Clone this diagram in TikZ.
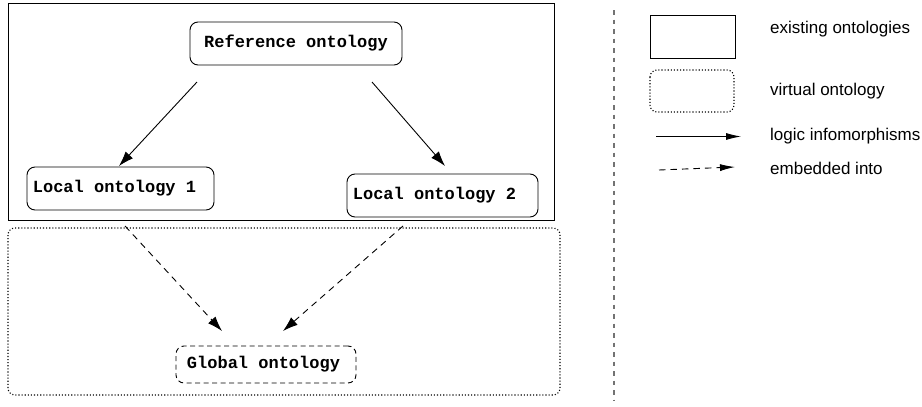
\documentclass[tikz,border=0pt]{standalone}
\usepackage{fontspec}
\setmainfont{Liberation Sans}
\newfontfamily\boxfont{Liberation Mono}
\usetikzlibrary{arrows.meta}
\tikzset{
  onto/.style={draw, rounded corners=8pt, line width=0.9pt, font=\boxfont\bfseries\fontsize{17}{20}\selectfont, inner sep=0pt},
  solidarrow/.style={line width=0.9pt, -{Latex[length=15pt,width=10pt]}},
  dasharrow/.style={line width=0.9pt, dash pattern=on 6.5pt off 5pt, -{Latex[length=15pt,width=10pt]}},
  dotbox/.style={line width=1.1pt, dash pattern=on 1.1pt off 2pt, rounded corners=7pt},
  legtext/.style={anchor=west, font=\fontsize{17}{20}\selectfont, inner sep=0pt},
}
\begin{document}
\begin{tikzpicture}[x=1pt,y=-1pt]
\useasboundingbox (0,0) rectangle (922,407);
% existing ontologies frame
\draw[line width=0.95pt] (8,3) rectangle (554,220);
% virtual ontology frame
\draw[dotbox] (8,228) rectangle (560,395);
% nodes
\node[onto, minimum width=212pt, minimum height=43pt] (ref) at (296,43.5) {Reference ontology};
\node[onto, minimum width=187pt, minimum height=43pt] (l1) at (120.5,188.5) {Local ontology 1\kern12pt\null};
\node[onto, minimum width=191pt, minimum height=43pt] (l2) at (442.5,195.5) {Local ontology 2\kern16pt\null};
\node[onto, dash pattern=on 5pt off 3.5pt, minimum width=180pt, minimum height=37pt] (glob) at (266,364.5) {Global ontology\kern5pt\null};
% arrow end points
\coordinate (a1s) at (197,82);
\coordinate (a1e) at (119,166);
\coordinate (a2s) at (372,82);
\coordinate (a2e) at (445,166);
\coordinate (d1s) at (125,226);
\coordinate (d1e) at (222,331);
\coordinate (d2s) at (403,226);
\coordinate (d2e) at (283,331);
\draw[solidarrow] (a1s) -- (a1e);
\draw[solidarrow] (a2s) -- (a2e);
\draw[dasharrow] (d1s) -- (d1e);
\draw[dasharrow] (d2s) -- (d2e);
% separator
\coordinate (sept) at (614,10);
\coordinate (sepb) at (614,401);
\draw[black!55, line width=1.3pt, dash pattern=on 4.5pt off 5pt] (sept) -- (sepb);
% legend
\draw[line width=0.95pt] (650,15) rectangle (735,58);
\draw[dotbox] (650,70) rectangle (734,112);
\coordinate (ls1) at (656,136.5);
\coordinate (le1) at (741,136.5);
\coordinate (ls2) at (659,170);
\coordinate (le2) at (735,167);
\draw[line width=0.9pt, -{Latex[length=15pt,width=7pt]}] (ls1) -- (le1);
\draw[line width=0.9pt, dash pattern=on 6.5pt off 5pt, -{Latex[length=15pt,width=7pt]}] (ls2) -- (le2);
\node[legtext] (t1) at (770,29) {existing ontologies};
\node[legtext] (t2) at (770,91) {virtual ontology};
\node[legtext] (t3) at (770,136) {logic infomorphisms};
\node[legtext] (t4) at (770,168) {embedded into};
\end{tikzpicture}
\end{document}
